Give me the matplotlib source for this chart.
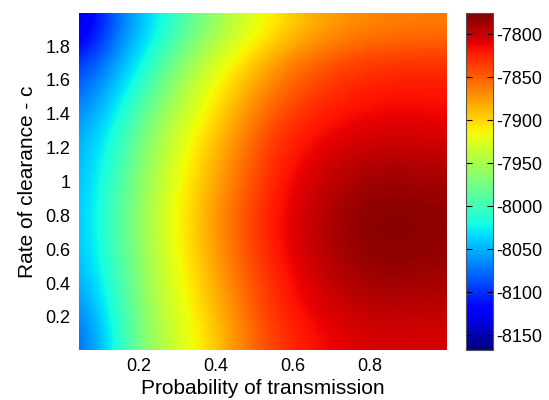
import numpy as np
import matplotlib
matplotlib.use("Agg")
import matplotlib.pyplot as plt

plt.rcParams["font.family"] = ["Liberation Sans", "DejaVu Sans"]
plt.rcParams["axes.unicode_minus"] = False

# sample positions (cell centres)
p_trans = [0.05, 0.15, 0.25, 0.35, 0.45, 0.55, 0.65, 0.75, 0.85, 0.95]
c_rate = [0.1, 0.3, 0.5, 0.7, 0.9, 1.1, 1.3, 1.5, 1.7, 1.9]

# one row per c value (bottom to top), columns follow p_trans
row_c01 = [-8082, -8008, -7945, -7914, -7872, -7835, -7817, -7808, -7804, -7806]
row_c03 = [-8064, -8000, -7940, -7905, -7864, -7828, -7808, -7796, -7791, -7794]
row_c05 = [-8050, -7994, -7938, -7898, -7858, -7823, -7802, -7787, -7781, -7785]
row_c07 = [-8045, -7988, -7933, -7893, -7852, -7817, -7797, -7782, -7776, -7780]
row_c09 = [-8046, -7990, -7935, -7895, -7855, -7820, -7800, -7785, -7779, -7783]
row_c11 = [-8050, -7998, -7942, -7902, -7864, -7826, -7807, -7795, -7790, -7793]
row_c13 = [-8057, -8010, -7952, -7912, -7874, -7836, -7818, -7809, -7806, -7808]
row_c15 = [-8077, -8030, -7973, -7927, -7890, -7855, -7833, -7822, -7817, -7818]
row_c17 = [-8100, -8052, -7998, -7943, -7908, -7875, -7850, -7836, -7830, -7829]
row_c19 = [-8143, -8070, -8025, -7978, -7938, -7908, -7884, -7870, -7864, -7862]

cb_ticks = [-8150, -8100, -8050, -8000, -7950, -7900, -7850, -7800]

grid = np.array([row_c01, row_c03, row_c05, row_c07, row_c09,
                 row_c11, row_c13, row_c15, row_c17, row_c19])

fig = plt.figure(figsize=(5.49, 4.0), dpi=100)
ax = fig.add_axes([0.1439, 0.125, 0.6685, 0.8425])
cax = fig.add_axes([0.8488, 0.125, 0.0492, 0.8425])

dx = p_trans[1] - p_trans[0]
dy = c_rate[1] - c_rate[0]
im = ax.imshow(grid, origin="lower", cmap="jet", aspect="auto",
               interpolation="bicubic", vmin=-8167, vmax=-7775,
               extent=(p_trans[0] - dx / 2, p_trans[-1] + dx / 2,
                       c_rate[0] - dy / 2, c_rate[-1] + dy / 2))

ax.set_xlim(0.043, 1.0)
ax.set_ylim(0.005, 1.995)
ax.set_xticks([0.2, 0.4, 0.6, 0.8])
ax.set_yticks([0.2, 0.4, 0.6, 0.8, 1, 1.2, 1.4, 1.6, 1.8])
ax.set_yticklabels(["0.2", "0.4", "0.6", "0.8", "1", "1.2", "1.4", "1.6", "1.8"])
ax.tick_params(length=0, labelsize=13, pad=6)
for s in ax.spines.values():
    s.set_visible(False)

ax.set_xlabel("Probability of transmission", fontsize=15, labelpad=3)
ax.set_ylabel("Rate of clearance - c", fontsize=15, labelpad=6)

cb = fig.colorbar(im, cax=cax, ticks=cb_ticks)
cb.ax.tick_params(labelsize=13, direction="in", length=4, pad=2,
                  left=True, right=True)
cb.outline.set_edgecolor("#555555")
cb.outline.set_linewidth(0.8)

fig.savefig("out.png", dpi=100)
